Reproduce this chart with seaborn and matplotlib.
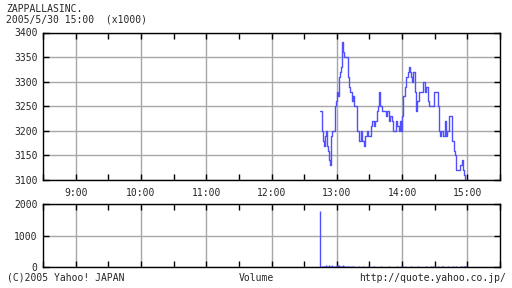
import numpy as np
import pandas as pd
import matplotlib
matplotlib.use("Agg")
import matplotlib.pyplot as plt
import seaborn as sns

# ---- data ----
start_hour = 12.75  # 12:45
price = [3240, 3200, 3180, 3170, 3190, 3200, 3170, 3160, 3140, 3130,
         3190, 3200, 3200, 3250, 3260, 3280, 3270, 3310, 3320, 3330,
         3380, 3360, 3350, 3350, 3350, 3310, 3290, 3280, 3280, 3260,
         3270, 3250, 3250, 3250, 3200, 3180, 3180, 3200, 3180, 3180,
         3170, 3190, 3190, 3200, 3190, 3190, 3210, 3220, 3220, 3210,
         3220, 3220, 3240, 3250, 3280, 3250, 3250, 3240, 3240, 3240,
         3230, 3240, 3240, 3220, 3230, 3230, 3220, 3200, 3200, 3220,
         3210, 3210, 3200, 3220, 3200, 3230, 3270, 3270, 3290, 3310,
         3320, 3330, 3320, 3310, 3300, 3320, 3320, 3280, 3240, 3260,
         3260, 3280, 3280, 3280, 3300, 3300, 3280, 3290, 3290, 3260,
         3250, 3250, 3250, 3250, 3280, 3280, 3280, 3280, 3250, 3200,
         3190, 3200, 3200, 3190, 3220, 3190, 3200, 3200, 3230, 3230,
         3230, 3180, 3180, 3160, 3150, 3120, 3120, 3120, 3130, 3130,
         3140, 3120, 3110, 3100, 3100]
volume = [1780, 30, 20, 40, 30, 50, 20, 40, 60, 40,
          30, 50, 40, 30, 20, 60, 70, 50, 40, 30,
          40, 50, 30, 20, 30, 20, 10, 20, 10, 20,
          10, 20, 10, 0, 10, 20, 10, 0, 10, 20,
          10, 10, 0, 10, 20, 10, 0, 10, 10, 20,
          10, 0, 10, 10, 0, 10, 20, 10, 0, 10,
          10, 0, 10, 20, 10, 0, 10, 10, 0, 10,
          20, 10, 0, 10, 30, 20, 10, 10, 20, 10,
          0, 10, 10, 20, 10, 0, 10, 10, 0, 10,
          20, 10, 0, 10, 10, 0, 10, 20, 10, 0,
          10, 10, 20, 30, 10, 0, 10, 10, 20, 10,
          0, 10, 20, 30, 10, 0, 10, 20, 10, 10,
          0, 10, 20, 10, 10, 20, 10, 0, 10, 20,
          30, 10, 20, 30, 40]
hour_ticks = [9, 10, 11, 12, 13, 14, 15]
hour_labels = ["9:00", "10:00", "11:00", "12:00", "13:00", "14:00", "15:00"]
price_ticks = [3100, 3150, 3200, 3250, 3300, 3350, 3400]
vol_ticks = [0, 1000, 2000]
title1 = "ZAPPALLASINC."
title2 = "2005/5/30 15:00  (x1000)"
footer_left = "(C)2005 Yahoo! JAPAN"
footer_mid = "Volume"
footer_right = "http://quote.yahoo.co.jp/"

t = start_hour + np.arange(len(price)) / 60.0
df = pd.DataFrame({"t": t, "price": price, "volume": volume[:len(price)]})

# ---- style ----
sns.set_style("white")
plt.rcParams["font.family"] = ["DejaVu Sans Mono"]
FS = 7.0
LINE = "#5050ff"
GRID = "#a8a8a8"

fig = plt.figure(figsize=(5.12, 2.88), dpi=100)
W, H = 512, 288
def rect(l, t_, r, b):
    return [l / W, 1 - b / H, (r - l) / W, (b - t_) / H]

ax1 = fig.add_axes(rect(43, 32.5, 500, 180))
ax2 = fig.add_axes(rect(43, 204, 500, 267))

sns.lineplot(data=df, x="t", y="price", ax=ax1, color=LINE, lw=1.0,
             drawstyle="steps-post", estimator=None)
ax2.vlines(df["t"], 0, df["volume"], color=LINE, lw=1.0)

for ax, yt in ((ax1, price_ticks), (ax2, vol_ticks)):
    ax.set_xlim(8.5, 15.5)
    ax.set_ylim(yt[0], yt[-1])
    ax.set_xticks(hour_ticks)
    ax.set_xticks([h + 0.5 for h in range(8, 16)], minor=True)
    ax.set_yticks(yt)
    ax.grid(True, which="major", color=GRID, lw=1.0)
    ax.set_axisbelow(True)
    ax.tick_params(which="both", direction="in", top=True, right=True,
                   bottom=True, left=True, length=4, width=1, color="black",
                   labelsize=FS, pad=4)
    for s in ax.spines.values():
        s.set_color("black")
        s.set_linewidth(1.0)
        s.set_visible(True)
    ax.set_xlabel("")
    ax.set_ylabel("")

ax1.set_xticklabels(hour_labels)
ax1.tick_params(axis="x", pad=6)
ax2.set_xticklabels([])
ax2.set_yticklabels([str(v) for v in vol_ticks])
ax1.set_yticklabels([str(v) for v in price_ticks])

fig.text(6 / W, 1 - 9 / H, title1, fontsize=FS, va="center", ha="left")
fig.text(6 / W, 1 - 19 / H, title2, fontsize=FS, va="center", ha="left")
fig.text(7 / W, 1 - 278 / H, footer_left, fontsize=FS, va="center", ha="left")
fig.text(256 / W, 1 - 278 / H, footer_mid, fontsize=FS, va="center", ha="center")
fig.text(506 / W, 1 - 278 / H, footer_right, fontsize=FS, va="center", ha="right")

fig.savefig("out.png", dpi=100, facecolor="white")
